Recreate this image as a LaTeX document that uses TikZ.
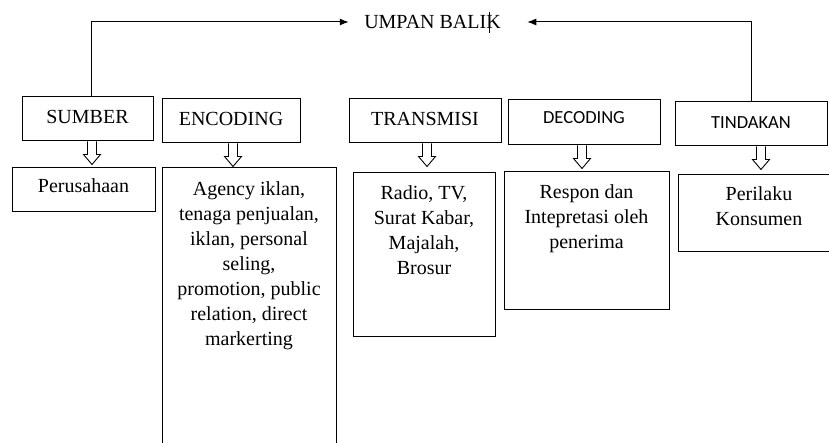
\documentclass[tikz,border=0pt]{standalone}
\usepackage{fontspec}
\setmainfont{Liberation Serif}
\newfontfamily\calib{Carlito}
\usetikzlibrary{arrows.meta}
\begin{document}
\begin{tikzpicture}[x=1pt,y=-1pt,line width=1pt,
  hbox/.style={draw,rectangle,inner sep=0pt,minimum height=44pt,
    font=\fontsize{20}{25}\selectfont,text height=14pt,text depth=5.4pt},
  sbox/.style={hbox,font=\calib\fontsize{18.5}{22}\selectfont},
  cbox/.style={draw,rectangle,inner sep=0pt},
  ctext/.style={inner sep=0pt,align=center,anchor=north,
    font=\fontsize{20}{25}\selectfont},
  fb/.style={-{Latex[length=9pt,width=7pt]}},
  holarrow/.pic={\draw[line width=0.9pt] (-4.5,0) -- (-4.5,13) -- (-8.5,13) -- (0,23) -- (8.5,13) -- (4.5,13) -- (4.5,0);}]
\useasboundingbox (0,0) rectangle (829,443);
\clip (0,0) rectangle (829,443);

% header boxes
\node[hbox,minimum width=131pt] (sumber) at (87.5,119) {SUMBER};
\node[hbox,minimum width=138pt] (encoding) at (231,121) {ENCODING};
\node[hbox,minimum width=152pt] (transmisi) at (425,121) {TRANSMISI};
\node[sbox,minimum width=152pt,minimum height=45pt,text height=12pt,text depth=10.4pt] (decoding) at (584,122.5) {DECODING};
\node[sbox,minimum width=152pt] (tindakan) at (751,124) {TINDAKAN};

% feedback
\node[inner sep=0pt,font=\fontsize{20}{25}\selectfont] (umpan) at (432.5,22) {UMPAN BALIK};
\draw[line width=0.8pt] (489,12) -- (489,33);
\draw[fb,shorten >=15pt] ([xshift=3.5pt]sumber.north) |- (umpan.west);
\draw[fb,shorten >=26pt] (tindakan.north) |- (umpan.east);

% content boxes
\node[cbox,minimum width=143pt,minimum height=44pt,
  font=\fontsize{20}{25}\selectfont,text height=14pt,text depth=8pt] (perusahaan) at (83.5,190) {Perusahaan};
\node[cbox,minimum width=174pt,minimum height=302pt] (encbox) at (249,319) {};
\node[cbox,minimum width=142pt,minimum height=163pt] (trbox) at (424,254.5) {};
\node[cbox,minimum width=165pt,minimum height=137pt] (decbox) at (586.5,240.5) {};
\node[cbox,minimum width=162pt,minimum height=77pt] (tinbox) at (759,213.5) {};

\node[ctext] (enctext) at (249,181) {Agency iklan,\\tenaga penjualan,\\iklan, personal\\seling,\\promotion, public\\relation, direct\\markerting};
\node[ctext] (trtext) at (424,185) {Radio, TV,\\Surat Kabar,\\Majalah,\\Brosur};
\node[ctext] (dectext) at (586.5,184) {Respon dan\\Intepretasi oleh\\penerima};
\node[ctext] (tintext) at (759,186) {Perilaku\\Konsumen};

% hollow arrows
\pic at ([xshift=4.5pt]sumber.south) {holarrow};
\pic at ([xshift=2pt]encoding.south) {holarrow};
\pic at ([xshift=2pt]transmisi.south) {holarrow};
\pic at ([xshift=-2pt]decoding.south) {holarrow};
\pic at ([xshift=10pt]tindakan.south) {holarrow};
\end{tikzpicture}
\end{document}
